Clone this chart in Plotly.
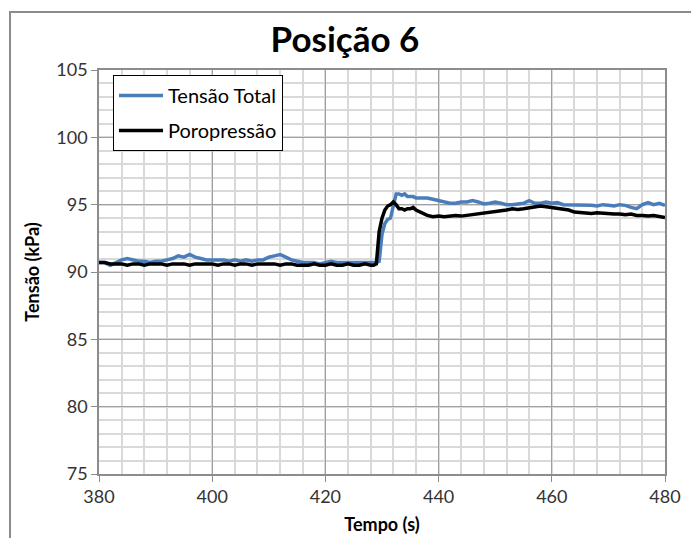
import plotly.graph_objects as go

# Time axis (s): 1 s steps, 0.5 s steps across the loading step
tempo = (
    list(range(380, 429))
    + [428.5, 429, 429.5, 430, 430.5, 431, 431.5, 432, 432.5, 433, 433.5, 434, 434.5, 435, 435.5, 436]
    + list(range(437, 481))
)

# Total stress (kPa)
tensao_total = [
    90.7, 90.7, 90.5, 90.7, 90.9, 91.0, 90.9, 90.8, 90.8, 90.7,
    90.8, 90.8, 90.9, 91.0, 91.2, 91.1, 91.3, 91.1, 91.0, 90.9,
    90.9, 90.9, 90.9, 90.8, 90.9, 90.8, 90.9, 90.8, 90.9, 90.9,
    91.1, 91.2, 91.3, 91.1, 90.9, 90.8, 90.7, 90.7, 90.7, 90.6,
    90.7, 90.8, 90.7, 90.7, 90.7, 90.7, 90.7, 90.7, 90.7,
    90.7, 90.7, 90.8, 92.8, 93.6, 93.9, 94.0, 95.0, 95.8, 95.8,
    95.7, 95.8, 95.6, 95.6, 95.6, 95.5,
    95.5, 95.5, 95.4, 95.3, 95.2, 95.1, 95.1, 95.2, 95.2, 95.3,
    95.2, 95.05, 95.1, 95.2, 95.1, 95.0, 95.0, 95.05, 95.1, 95.3,
    95.1, 95.1, 95.2, 95.1, 95.15, 95.0, 95.0, 94.95, 94.95, 95.0,
    94.95, 94.9, 95.0, 94.95, 94.9, 95.0, 94.95, 94.8, 94.7, 95.0,
    95.15, 95.0, 95.1, 94.95,
]

# Pore pressure (kPa)
poropressao = [
    90.7, 90.7, 90.6, 90.6, 90.6, 90.5, 90.6, 90.6, 90.5, 90.6,
    90.6, 90.6, 90.5, 90.6, 90.6, 90.6, 90.5, 90.6, 90.6, 90.6,
    90.6, 90.5, 90.6, 90.6, 90.5, 90.6, 90.6, 90.5, 90.6, 90.6,
    90.6, 90.6, 90.5, 90.6, 90.6, 90.5, 90.5, 90.5, 90.6, 90.5,
    90.5, 90.6, 90.5, 90.5, 90.6, 90.5, 90.5, 90.6, 90.5,
    90.5, 90.6, 93.0, 94.0, 94.6, 94.9, 95.0, 95.2, 95.0, 94.7,
    94.7, 94.6, 94.7, 94.7, 94.8, 94.6,
    94.4, 94.2, 94.1, 94.15, 94.1, 94.15, 94.2, 94.15, 94.2, 94.3,
    94.35, 94.4, 94.45, 94.5, 94.55, 94.6, 94.7, 94.65, 94.7, 94.75,
    94.85, 94.9, 94.85, 94.8, 94.75, 94.7, 94.6, 94.45, 94.4, 94.4,
    94.35, 94.4, 94.35, 94.35, 94.3, 94.3, 94.25, 94.3, 94.2, 94.2,
    94.15, 94.2, 94.1, 94.05,
]

x_ticks = [380, 400, 420, 440, 460, 480]
y_ticks = [75, 80, 85, 90, 95, 100, 105]

FONT = "Lato"
MAJOR = "#a0a0a0"
MINOR = "#d9d9d9"

fig = go.Figure()
fig.add_trace(go.Scatter(
    x=tempo, y=tensao_total, mode="lines", name="Tensão Total",
    line=dict(color="#4a7ebb", width=3.5), legendgroup="a",
))
fig.add_trace(go.Scatter(
    x=tempo, y=poropressao, mode="lines", name="Poropressão",
    line=dict(color="#000000", width=3.5), legendgroup="b",
))

# outer chart frame
fig.add_shape(
    type="rect", xref="paper", yref="paper",
    x0=(10 - 99) / 566, x1=(720 - 99) / 566,
    y0=(474 - 560) / 404, y1=(474 - 12) / 404,
    line=dict(color="#8c8c8c", width=2), fillcolor="rgba(0,0,0,0)", layer="below",
)

fig.update_layout(
    width=691, height=538,
    margin=dict(l=99, r=26, t=70, b=64, autoexpand=False),
    paper_bgcolor="white", plot_bgcolor="white",
    font=dict(family=FONT, color="#000000"),
    title=dict(text="<b>Posição 6</b>", x=345 / 691, xanchor="center",
               y=1 - 40 / 538, yanchor="middle", font=dict(size=35, family=FONT)),
    showlegend=True,
    legend=dict(
        x=(113 - 99) / 566, y=(474 - 75) / 404, xanchor="left", yanchor="top",
        bgcolor="white", bordercolor="#000000", borderwidth=1,
        font=dict(size=20, family=FONT), tracegroupgap=6,
        traceorder="grouped", itemwidth=44,
    ),
    xaxis=dict(
        range=[380, 480], tickvals=x_ticks, ticktext=[str(v) for v in x_ticks],
        automargin=False,
        showgrid=True, gridcolor=MAJOR, gridwidth=1,
        minor=dict(dtick=4, showgrid=True, gridcolor=MINOR, gridwidth=1.5),
        showline=True, linecolor="#8c8c8c", linewidth=1.5, mirror=True,
        ticks="outside", ticklen=6, tickcolor="#8c8c8c",
        tickfont=dict(size=18, family=FONT, color="#333333"),
        title=dict(text="<b>Tempo (s)</b>", font=dict(size=18, family=FONT), standoff=12),
        zeroline=False,
    ),
    yaxis=dict(
        range=[75, 105], tickvals=y_ticks, ticktext=[str(v) for v in y_ticks],
        automargin=False,
        showgrid=True, gridcolor=MAJOR, gridwidth=1,
        minor=dict(dtick=1, showgrid=True, gridcolor=MINOR, gridwidth=1.5),
        showline=True, linecolor="#8c8c8c", linewidth=1.5, mirror=True,
        ticks="outside", ticklen=6, tickcolor="#8c8c8c",
        tickfont=dict(size=18, family=FONT, color="#333333"),
        title=dict(text="<b>Tensão (kPa)</b>", font=dict(size=18, family=FONT), standoff=12),
        zeroline=False,
    ),
)

fig.write_html("out.html")
